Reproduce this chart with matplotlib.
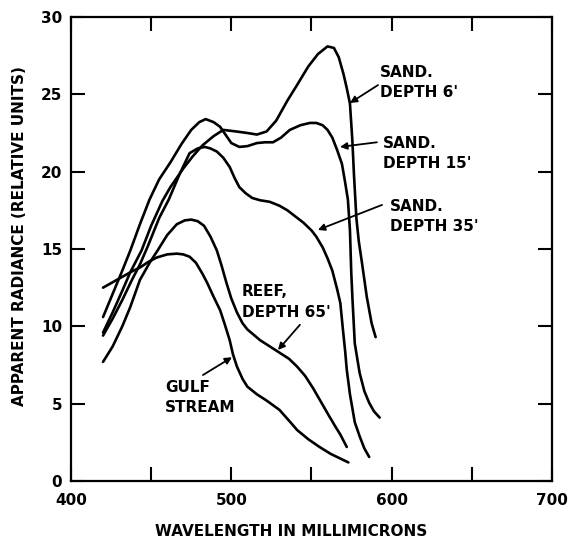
import matplotlib
matplotlib.use('Agg')
import matplotlib.pyplot as plt

# apparent radiance vs wavelength
sand6_wl = [420, 426, 432, 437, 444, 450, 457, 462, 470, 476, 482, 489, 495, 503,
            510, 516, 522, 528, 535, 541, 548, 554, 560, 564, 567, 570, 572, 574,
            575.5, 576.5, 578, 579.5, 581.5, 584.5, 587.5, 590]
sand6_rad = [9.6, 10.9, 12.3, 13.5, 14.9, 16.5, 18.1, 19.0, 20.2, 21.0, 21.7, 22.3, 22.7, 22.6,
             22.5, 22.4, 22.6, 23.3, 24.6, 25.6, 26.8, 27.6, 28.1, 28.0, 27.4, 26.3, 25.4, 24.4,
             22.0, 19.8, 17.0, 15.5, 14.1, 11.9, 10.2, 9.3]

sand15_wl = [420, 426, 432, 437, 443, 449, 455, 462, 469, 475, 480, 484, 489, 493,
             497, 500, 505, 510, 516, 521, 526, 531, 536.5, 543, 549, 553, 557, 560,
             563, 566, 569, 571, 572.7, 574, 574.8, 575.5, 577, 580, 583, 586, 589, 592.5]
sand15_rad = [10.6, 12.1, 13.6, 14.9, 16.6, 18.2, 19.5, 20.6, 21.8, 22.7, 23.2, 23.4, 23.2, 22.9,
              22.3, 21.85, 21.6, 21.65, 21.85, 21.9, 21.9, 22.2, 22.7, 23.0, 23.15, 23.15, 23.0, 22.7,
              22.2, 21.4, 20.5, 19.3, 18.2, 16.2, 13.5, 11.9, 8.9, 7.0, 5.8, 5.05, 4.5, 4.1]

sand35_wl = [420, 426, 432, 438, 443, 448, 455, 461, 468, 474, 479, 483.5, 487, 491,
             495, 499, 502, 505, 509, 513, 518, 524, 530, 535, 540, 545, 550, 553,
             557, 560, 563, 566, 568, 569.6, 571, 572, 574, 577, 580, 583, 586]
sand35_rad = [9.4, 10.5, 11.7, 13.0, 14.0, 15.2, 17.0, 18.2, 19.9, 21.2, 21.5, 21.6, 21.5, 21.3,
              20.9, 20.3, 19.6, 19.0, 18.6, 18.3, 18.15, 18.05, 17.8, 17.5, 17.1, 16.7, 16.2, 15.8,
              15.1, 14.4, 13.6, 12.4, 11.5, 9.8, 8.4, 7.2, 5.6, 3.8, 2.9, 2.1, 1.55]

reef_wl = [420, 426, 432, 437, 443, 449, 454, 460, 466, 471, 475, 479, 483, 487,
           491, 494, 497, 500, 503.5, 507, 510, 514, 518, 524, 530, 536, 541, 546,
           551, 556, 561, 565, 568, 572]
reef_rad = [7.7, 8.7, 10.0, 11.25, 13.0, 14.1, 14.9, 15.9, 16.6, 16.85, 16.9, 16.8, 16.5, 15.8,
            14.9, 13.9, 12.8, 11.8, 10.9, 10.2, 9.8, 9.45, 9.1, 8.7, 8.3, 7.9, 7.4, 6.8,
            6.0, 5.1, 4.2, 3.5, 3.0, 2.2]

gulf_wl = [420, 426, 432, 438, 443, 448, 453.5, 460, 466, 470, 474, 478, 482, 485,
           489, 493, 496, 499, 501, 503.5, 507, 510, 516, 522, 530, 536, 541, 548,
           555, 562, 568, 573]
gulf_rad = [12.5, 12.85, 13.2, 13.55, 13.8, 14.15, 14.45, 14.65, 14.7, 14.65, 14.5, 14.1, 13.4, 12.8,
            11.9, 11.05, 10.1, 9.1, 8.2, 7.4, 6.6, 6.1, 5.6, 5.2, 4.6, 3.9, 3.3, 2.7,
            2.2, 1.75, 1.45, 1.2]

x_ticks = [400, 450, 500, 550, 600, 650, 700]
x_ticklabels = ['400', '', '500', '', '600', '', '700']
y_ticks = [0, 5, 10, 15, 20, 25, 30]

plt.rcParams['font.weight'] = 'bold'

fig = plt.figure(figsize=(5.71, 5.40), dpi=100)
ax = fig.add_axes([0.1243, 0.1093, 0.8424, 0.8592])

for wl, rad in [(sand6_wl, sand6_rad), (sand15_wl, sand15_rad), (sand35_wl, sand35_rad),
                (reef_wl, reef_rad), (gulf_wl, gulf_rad)]:
    ax.plot(wl, rad, color='black', lw=1.9, solid_joinstyle='round', solid_capstyle='round')

ax.set_xlim(400, 700)
ax.set_ylim(0, 30)
ax.set_xticks(x_ticks)
ax.set_xticklabels(x_ticklabels)
ax.set_yticks(y_ticks)
ax.tick_params(direction='in', length=10, width=1.5, top=True, right=True,
               labelsize=11, colors='black')
ax.tick_params(axis='x', pad=9)
ax.tick_params(axis='y', pad=6.5)
for s in ax.spines.values():
    s.set_linewidth(1.6)

ax.set_xlabel('WAVELENGTH IN MILLIMICRONS', fontsize=11, fontweight='bold')
ax.xaxis.label.set_va('center')
ax.xaxis.set_label_coords(0.457, -0.108)
ax.set_ylabel('APPARENT RADIANCE (RELATIVE UNITS)', fontsize=11, fontweight='bold')
ax.yaxis.label.set_va('center')
ax.yaxis.set_label_coords(-0.106, 0.528)

# curve labels with arrows
arrow = dict(arrowstyle='-|>', color='black', lw=1.3, mutation_scale=10, shrinkA=0, shrinkB=0)
txt = dict(fontsize=11, fontweight='bold', ha='left', va='center', linespacing=1.45)

ax.text(592.7, 25.77, "SAND.\nDEPTH 6'", **txt)
ax.annotate('', xy=(574.0, 24.44), xytext=(591.5, 25.6), arrowprops=arrow)

ax.text(594.6, 21.17, "SAND.\nDEPTH 15'", **txt)
ax.annotate('', xy=(567.8, 21.6), xytext=(590.8, 21.9), arrowprops=arrow)

ax.text(598.9, 17.1, "SAND.\nDEPTH 35'", **txt)
ax.annotate('', xy=(554.0, 16.23), xytext=(594.0, 17.85), arrowprops=arrow)

ax.text(506.6, 11.57, "REEF,\nDEPTH 65'", **txt)
ax.annotate('', xy=(529.1, 8.47), xytext=(542.8, 10.1), arrowprops=arrow)

ax.text(458.6, 5.4, "GULF\nSTREAM", **txt)
ax.annotate('', xy=(500.4, 8.0), xytext=(482.3, 6.85), arrowprops=arrow)

fig.savefig('out.png', dpi=100)
